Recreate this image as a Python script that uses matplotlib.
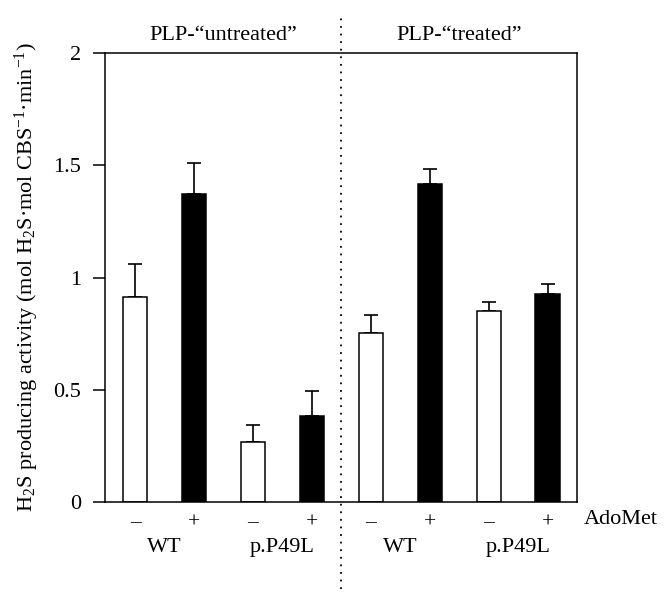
import numpy as np
import matplotlib
matplotlib.use("Agg")
import matplotlib.pyplot as plt

plt.rcParams['font.family'] = ['Liberation Serif', 'DejaVu Serif']
plt.rcParams['mathtext.fontset'] = 'custom'
plt.rcParams['mathtext.rm'] = 'Liberation Serif'
plt.rcParams['mathtext.it'] = 'Liberation Serif:italic'

# data
adomet = ["–", "+", "–", "+", "–", "+", "–", "+"]
activity = [0.915, 1.37, 0.268, 0.384, 0.754, 1.415, 0.852, 0.925]
err_up = [0.145, 0.14, 0.076, 0.11, 0.08, 0.07, 0.04, 0.045]
groups = ["WT", "p.P49L", "WT", "p.P49L"]
conditions = ["PLP-“untreated”", "PLP-“treated”"]

x = np.arange(len(activity))
colors = ["white" if s != "+" else "black" for s in adomet]

fig = plt.figure(figsize=(6.71, 5.97), dpi=100)
ax = fig.add_axes([0.1565, 0.1591, 0.7034, 0.7521])

ax.errorbar(x, activity, yerr=[np.zeros(len(x)), err_up], fmt='none',
            ecolor='black', elinewidth=1.2, capsize=4.7, capthick=1.2, zorder=1)
ax.bar(x, activity, width=0.41, color=colors, edgecolor='black', linewidth=1.1, zorder=2)

ax.set_xlim(-0.51, 7.5)
ax.set_ylim(0, 2)
ax.set_yticks([0, 0.5, 1, 1.5, 2])
ax.set_yticklabels(["0", "0.5", "1", "1.5", "2"])
ax.set_xticks(x)
ax.set_xticklabels(adomet)
ax.tick_params(axis='x', length=0, pad=8, labelsize=15.5)
ax.tick_params(axis='y', direction='out', length=9, width=1.1, pad=8, labelsize=16)
for sp in ax.spines.values():
    sp.set_linewidth(1.1)

trans = ax.get_xaxis_transform()
ax.text(7.62, -0.038, "AdoMet", transform=trans, ha='left', va='center', fontsize=16)
for i, g in enumerate(groups):
    ax.text(2 * i + 0.5, -0.102, g, transform=trans, ha='center', va='center', fontsize=16)
for i, c in enumerate(conditions):
    ax.text(4 * i + 1.5, 1.040, c, transform=trans, ha='center', va='center', fontsize=16)

# dotted separator between the two panels
ax.plot([3.5, 3.5], [-0.388, 2.174], color='black', linewidth=1.3,
        linestyle=(0, (1, 3.2)), clip_on=False)

ax.set_ylabel("H$_2$S producing activity (mol H$_2$S·mol CBS$^{-1}$·min$^{-1}$)",
              fontsize=16, labelpad=9)

fig.savefig("out.png", dpi=100)
